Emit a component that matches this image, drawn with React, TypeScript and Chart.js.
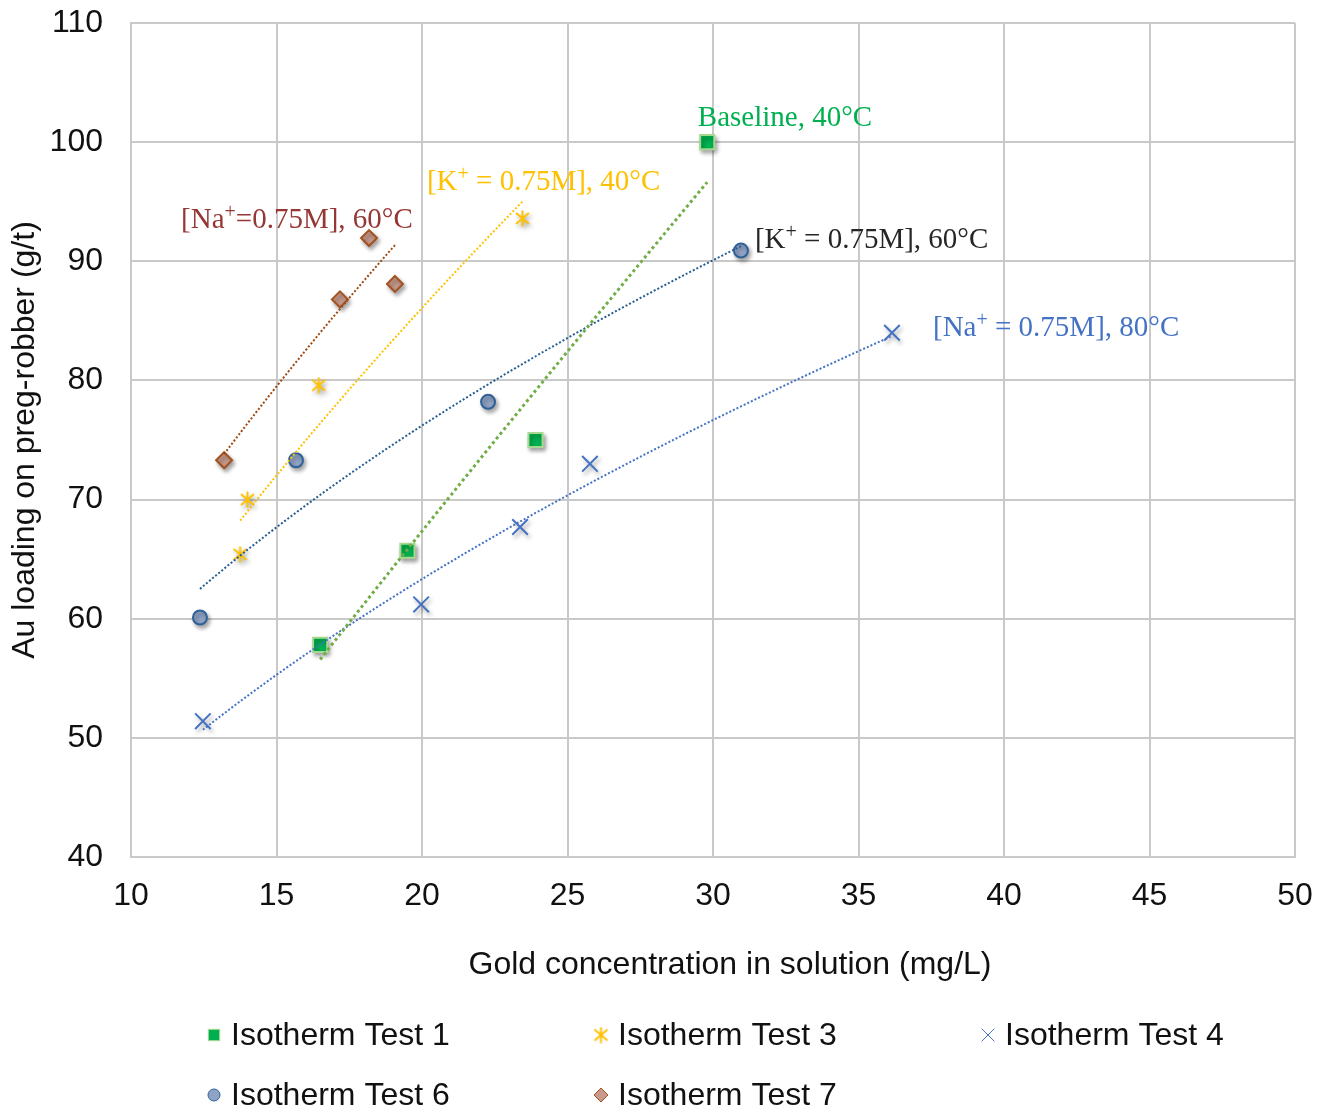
import { useEffect, useRef } from 'react';
import { Chart, registerables } from 'chart.js';
import { drawPoint } from 'chart.js/helpers';

Chart.register(...registerables);

// Isotherm measurements: gold in solution (mg/L) vs. loading on preg-robber (g/t)
const test1X = [16.5, 19.5, 23.9, 29.8];
const test1Y = [57.8, 65.7, 75.0, 100.0];
const test3X = [13.75, 14.0, 16.45, 23.45];
const test3Y = [65.4, 70.0, 79.6, 93.6];
const test4X = [12.47, 19.97, 23.37, 25.77, 36.15];
const test4Y = [51.4, 61.2, 67.7, 73.0, 84.0];
const test6X = [12.37, 15.67, 22.27, 30.96];
const test6Y = [60.1, 73.3, 78.2, 90.9];
const test7X = [13.2, 17.18, 18.18, 19.07];
const test7Y = [73.3, 86.8, 91.95, 88.1];

const seriesNames = ['Isotherm Test 1', 'Isotherm Test 3', 'Isotherm Test 4', 'Isotherm Test 6', 'Isotherm Test 7'];

// Condition labels (text, '^' marks the superscript part) and their anchor in data units
const noteTexts = ['Baseline, 40°C', '[K^+ = 0.75M], 40°C', '[Na^+=0.75M], 60°C', '[K^+ = 0.75M], 60°C', '[Na^+ = 0.75M], 80°C'];
const noteX = [29.48, 20.17, 11.72, 31.44, 37.56];
const noteY = [102.03, 96.66, 93.47, 91.79, 84.4];
const noteColors = ['#00b050', '#ffc000', '#953735', '#262626', '#4472c4'];

const xTicks = { min: 10, max: 50, step: 5 };
const yTicks = { min: 40, max: 110, step: 10 };

const SANS = '"Liberation Sans", Arial, sans-serif';
const SERIF = '"Liberation Serif", "Times New Roman", serif';
const GRID = '#c9c9c9';
const FONT_SIZE = 32;

const toPoints = (xs: number[], ys: number[]) => xs.map((x, i) => ({ x, y: ys[i] }));

// Power-law (Freundlich) least-squares fit, sampled between the smallest and largest x
function powerTrend(xs: number[], ys: number[]) {
  const lx = xs.map(Math.log);
  const ly = ys.map(Math.log);
  const n = xs.length;
  const mx = lx.reduce((a, b) => a + b, 0) / n;
  const my = ly.reduce((a, b) => a + b, 0) / n;
  let sxy = 0;
  let sxx = 0;
  for (let i = 0; i < n; i++) {
    sxy += (lx[i] - mx) * (ly[i] - my);
    sxx += (lx[i] - mx) * (lx[i] - mx);
  }
  const b = sxy / sxx;
  const a = Math.exp(my - b * mx);
  const lo = Math.min(...xs);
  const hi = Math.max(...xs);
  const steps = 40;
  const pts = [];
  for (let k = 0; k <= steps; k++) {
    const x = lo + ((hi - lo) * k) / steps;
    pts.push({ x, y: a * Math.pow(x, b) });
  }
  return pts;
}

// Six-armed star marker: an X crossed by a vertical stroke
function makeStar(size: number, color: string, lw: number) {
  const c = document.createElement('canvas');
  c.width = size;
  c.height = size;
  const g = c.getContext('2d')!;
  g.strokeStyle = color;
  g.lineWidth = lw;
  const m = 2;
  g.beginPath();
  g.moveTo(m, m + 1);
  g.lineTo(size - m, size - m - 1);
  g.moveTo(size - m, m + 1);
  g.lineTo(m, size - m - 1);
  g.moveTo(size / 2, 0.5);
  g.lineTo(size / 2, size - 0.5);
  g.stroke();
  return c;
}

const markerShadow = {
  id: 'markerShadow',
  beforeDatasetDraw(chart: any, args: any) {
    const ds = chart.data.datasets[args.index];
    if (ds.isTrend) return;
    const ctx = chart.ctx;
    ctx.save();
    ctx.shadowColor = 'rgba(0,0,0,0.35)';
    ctx.shadowBlur = 4;
    ctx.shadowOffsetX = 2;
    ctx.shadowOffsetY = 3;
  },
  afterDatasetDraw(chart: any, args: any) {
    const ds = chart.data.datasets[args.index];
    if (ds.isTrend) return;
    chart.ctx.restore();
  },
};

function drawRich(ctx: CanvasRenderingContext2D, text: string, x: number, y: number, size: number) {
  const parts = text.split(/(\^.)/);
  let cx = x;
  for (const p of parts) {
    if (!p) continue;
    if (p.startsWith('^')) {
      ctx.font = `${Math.round(size * 0.68)}px ${SERIF}`;
      ctx.fillText(p.slice(1), cx, y - size * 0.24);
      cx += ctx.measureText(p.slice(1)).width;
    } else {
      ctx.font = `${size}px ${SERIF}`;
      ctx.fillText(p, cx, y);
      cx += ctx.measureText(p).width;
    }
  }
}

const conditionNotes = {
  id: 'conditionNotes',
  afterDatasetsDraw(chart: any) {
    const { ctx, scales } = chart;
    ctx.save();
    ctx.textBaseline = 'middle';
    ctx.textAlign = 'left';
    noteTexts.forEach((t, i) => {
      ctx.fillStyle = noteColors[i];
      drawRich(ctx, t, scales.x.getPixelForValue(noteX[i]), scales.y.getPixelForValue(noteY[i]), 29);
    });
    ctx.restore();
  },
};

const xAxisTitle = {
  id: 'xAxisTitle',
  afterDraw(chart: any) {
    const ctx = chart.ctx;
    ctx.save();
    ctx.font = `${FONT_SIZE}px ${SANS}`;
    ctx.fillStyle = '#111';
    ctx.textAlign = 'center';
    ctx.textBaseline = 'middle';
    ctx.fillText('Gold concentration in solution (mg/L)', 730, 965);
    ctx.restore();
  },
};

const gridLegend = {
  id: 'gridLegend',
  afterDraw(chart: any) {
    const ctx = chart.ctx;
    const cols = [214, 601, 988];
    const rows = [1035, 1095];
    const items = chart.data.datasets.filter((d: any) => !d.isTrend);
    ctx.save();
    items.forEach((d: any, i: number) => {
      const cx = cols[i % 3];
      const cy = rows[Math.floor(i / 3)];
      ctx.fillStyle = d.pointBackgroundColor;
      ctx.strokeStyle = d.pointBorderColor;
      drawPoint(ctx, {
        pointStyle: d.pointStyle,
        radius: d.legendRadius,
        borderWidth: d.pointBorderWidth,
        rotation: 0,
      } as any, cx, cy);
      ctx.fillStyle = '#111';
      ctx.font = `${FONT_SIZE}px ${SANS}`;
      ctx.textAlign = 'left';
      ctx.textBaseline = 'middle';
      ctx.fillText(d.label, cx + 17, cy + 1);
    });
    ctx.restore();
  },
};

export default function App() {
  const ref = useRef<HTMLCanvasElement | null>(null);

  useEffect(() => {
    if (!ref.current) return;
    const star = makeStar(17, '#ffc000', 2);

    const scatterBase = { showLine: false, order: 1, pointHoverRadius: 0 };
    const trendBase = {
      isTrend: true,
      showLine: true,
      pointRadius: 0,
      pointHoverRadius: 0,
      borderWidth: 2,
      borderDash: [2, 2],
      fill: false,
      order: 0,
    };

    const chart = new Chart(ref.current, {
      type: 'scatter',
      data: {
        datasets: [
          {
            ...scatterBase,
            label: seriesNames[0],
            data: toPoints(test1X, test1Y),
            pointStyle: 'rect',
            pointRadius: 10,
            legendRadius: 8,
            pointBackgroundColor: '#00b050',
            pointBorderColor: '#a6d98f',
            pointBorderWidth: 2,
          },
          {
            ...scatterBase,
            label: seriesNames[1],
            data: toPoints(test3X, test3Y),
            pointStyle: star,
            pointRadius: 8,
            legendRadius: 8,
            pointBackgroundColor: '#ffc000',
            pointBorderColor: '#ffc000',
            pointBorderWidth: 2,
          },
          {
            ...scatterBase,
            label: seriesNames[2],
            data: toPoints(test4X, test4Y),
            pointStyle: 'crossRot',
            pointRadius: 11,
            legendRadius: 9,
            pointBackgroundColor: '#4472c4',
            pointBorderColor: '#4472c4',
            pointBorderWidth: 2,
          },
          {
            ...scatterBase,
            label: seriesNames[3],
            data: toPoints(test6X, test6Y),
            pointStyle: 'circle',
            pointRadius: 7,
            legendRadius: 6,
            pointBackgroundColor: '#8fa3c5',
            pointBorderColor: '#2f6196',
            pointBorderWidth: 2,
          },
          {
            ...scatterBase,
            label: seriesNames[4],
            data: toPoints(test7X, test7Y),
            pointStyle: 'rectRot',
            pointRadius: 8,
            legendRadius: 7,
            pointBackgroundColor: '#c89a8d',
            pointBorderColor: '#a3521f',
            pointBorderWidth: 2,
          },
          { ...trendBase, label: 't1', data: powerTrend(test1X, test1Y), borderColor: '#70ad47', borderWidth: 3, borderDash: [3, 3] },
          { ...trendBase, label: 't3', data: powerTrend(test3X, test3Y), borderColor: '#ffc000' },
          { ...trendBase, label: 't4', data: powerTrend(test4X, test4Y), borderColor: '#4472c4' },
          { ...trendBase, label: 't6', data: powerTrend(test6X, test6Y), borderColor: '#255e91' },
          { ...trendBase, label: 't7', data: powerTrend(test7X, test7Y), borderColor: '#9e480e' },
        ] as any,
      },
      options: {
        animation: false,
        responsive: false,
        devicePixelRatio: 1,
        events: [],
        layout: { padding: { top: 23, right: 35, left: 0, bottom: 121 } },
        plugins: {
          legend: { display: false },
          tooltip: { enabled: false },
        },
        scales: {
          x: {
            type: 'linear',
            min: xTicks.min,
            max: xTicks.max,
            afterFit: (s: any) => {
              s.height = 133;
              s.paddingLeft = 0;
              s.paddingRight = 0;
            },
            ticks: {
              stepSize: xTicks.step,
              padding: 20,
              color: '#111',
              font: { family: SANS, size: FONT_SIZE },
              maxRotation: 0,
            },
            grid: { color: GRID, lineWidth: 2, drawTicks: false },
            border: { color: GRID, width: 2 },
          },
          y: {
            type: 'linear',
            min: yTicks.min,
            max: yTicks.max,
            afterFit: (s: any) => {
              s.width = 131;
              s.paddingTop = 0;
              s.paddingBottom = 0;
            },
            ticks: {
              stepSize: yTicks.step,
              padding: 28,
              color: '#111',
              font: { family: SANS, size: FONT_SIZE },
            },
            grid: { color: GRID, lineWidth: 2, drawTicks: false },
            border: { color: GRID, width: 2 },
            title: {
              display: true,
              text: 'Au loading on preg-robber (g/t)',
              color: '#111',
              font: { family: SANS, size: FONT_SIZE },
              padding: { top: 6, bottom: 0 },
            },
          },
        },
      },
      plugins: [markerShadow, conditionNotes, xAxisTitle, gridLegend],
    } as any);

    return () => chart.destroy();
  }, []);

  return (
    <div style={{ position: 'fixed', left: 0, top: 0, width: 1330, height: 1111, background: '#fff' }}>
      <canvas ref={ref} width={1330} height={1111} />
    </div>
  );
}
